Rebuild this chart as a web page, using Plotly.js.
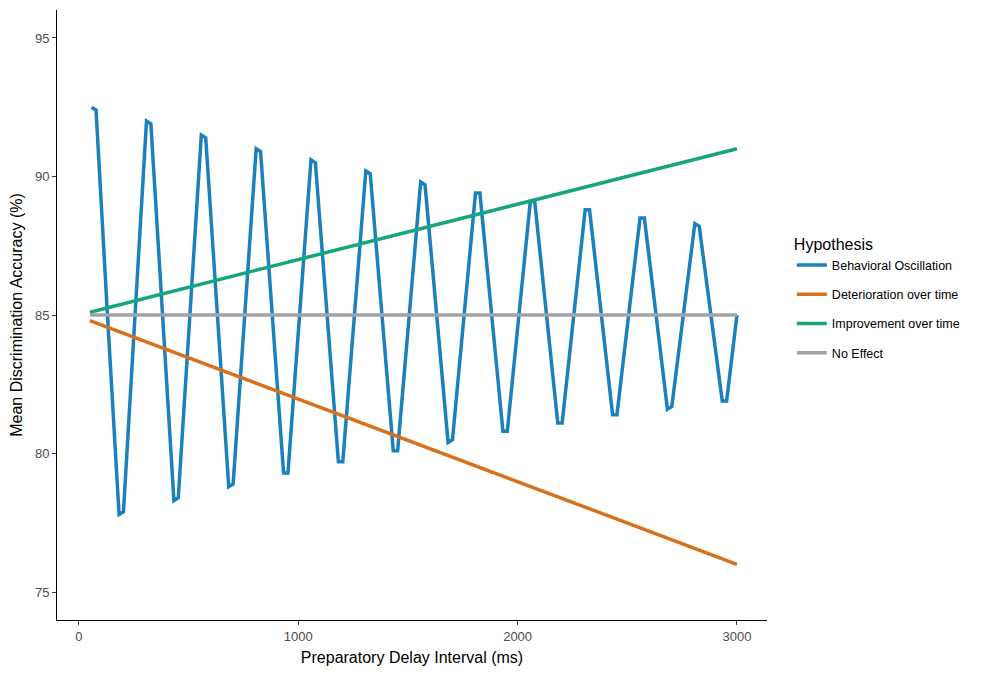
<!DOCTYPE html>
<html><head><meta charset="utf-8">
<script src="https://cdn.plot.ly/plotly-3.0.1.min.js"></script>
<style>body{margin:0}#plot{width:1000px;height:677px}</style>
</head><body><div id="plot"></div>
<script>
// Behavioral oscillation
const oscX = [58,78,130,183,203,255, 308,328,380,433,453,505, 558,578,630,683,703,755,
  808,828,880,933,953,1005, 1058,1078,1130,1183,1203,1255, 1308,1328,1380,1433,1453,1505,
  1558,1578,1630,1683,1703,1755, 1808,1828,1880,1933,1953,2005, 2058,2078,2130,2183,2203,2255,
  2308,2328,2380,2433,2453,2505, 2558,2578,2630,2683,2703,2755, 2808,2828,2880,2933,2953,3000];
const oscY = [92.5,92.4,85,77.8,77.9,85, 92.0,91.9,85,78.3,78.4,85, 91.5,91.4,85,78.8,78.9,85,
  91.0,90.9,85,79.3,79.3,85, 90.6,90.5,85,79.7,79.7,85, 90.2,90.1,85,80.1,80.1,85,
  89.8,89.7,85,80.4,80.5,85, 89.4,89.4,85,80.8,80.8,85, 89.1,89.1,85,81.1,81.1,85,
  88.8,88.8,85,81.4,81.4,85, 88.5,88.5,85,81.6,81.7,85, 88.3,88.2,85,81.9,81.9,85];
const lineX = [50, 3000];
const deterY = [84.8, 76.0];
const improveY = [85.1, 91.0];
const noEffectY = [85, 85];

const names = ['Behavioral Oscillation','Deterioration over time','Improvement over time','No Effect'];
const colors = ['#1b80bb','#d9711c','#17a57d','#a3a3a3'];
const xs = [oscX, lineX, lineX, lineX];
const ys = [oscY, deterY, improveY, noEffectY];

const traces = names.map((n, i) => ({
  x: xs[i], y: ys[i], name: n, legendgroup: 'g' + i, mode: 'lines', type: 'scatter',
  line: {color: colors[i], width: 3.5}
}));

const layout = {
  width: 1000, height: 677,
  margin: {l: 57, r: 233, t: 10, b: 57},
  paper_bgcolor: 'white', plot_bgcolor: 'white',
  font: {family: 'Liberation Sans, Arial, sans-serif', color: '#000'},
  xaxis: {range: [-100, 3137], tickvals: [0,1000,2000,3000], ticks: 'outside', ticklen: 4,
    tickcolor: '#333', showline: true, linecolor: '#000', linewidth: 1, showgrid: false, zeroline: false,
    tickfont: {size: 13, color: '#4d4d4d'},
    title: {text: 'Preparatory Delay Interval (ms)', font: {size: 16}, standoff: 9}},
  yaxis: {range: [73.99, 96.01], tickvals: [75,80,85,90,95], ticks: 'outside', ticklen: 4,
    tickcolor: '#333', showline: true, linecolor: '#000', linewidth: 1, showgrid: false, zeroline: false,
    tickfont: {size: 13, color: '#4d4d4d'},
    title: {text: 'Mean Discrimination Accuracy (%)', font: {size: 16}, standoff: 8}},
  legend: {x: 1.035, y: 0.64, xanchor: 'left', yanchor: 'top', font: {size: 12.5},
    title: {text: 'Hypothesis', font: {size: 16}}, tracegroupgap: 10}
};
Plotly.newPlot('plot', traces, layout, {displayModeBar: false});
</script></body></html>
